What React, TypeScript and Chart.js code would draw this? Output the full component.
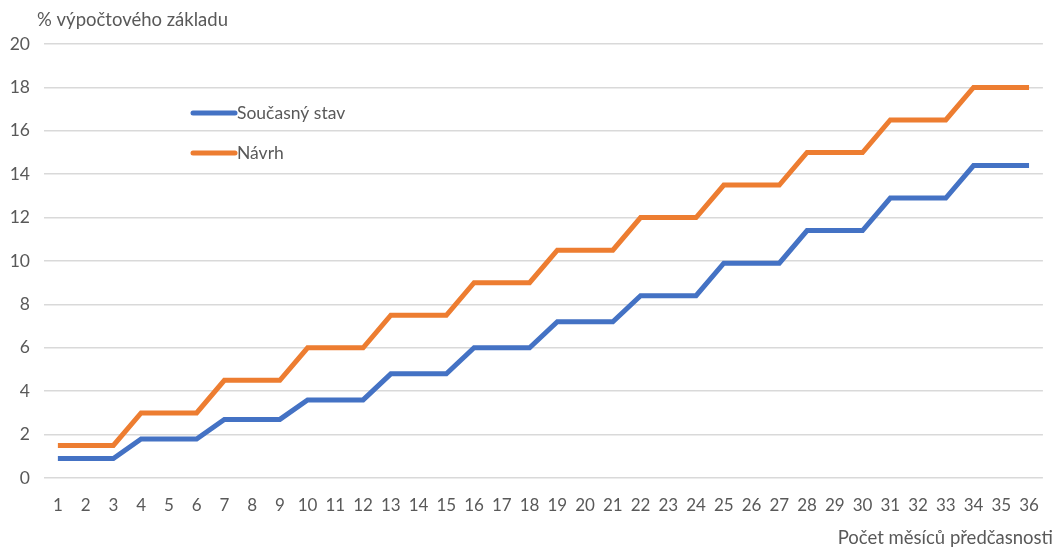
import React, { useEffect, useRef } from "react";
import { Chart, registerables } from "chart.js";

Chart.register(...registerables);

const months: string[] = Array.from({ length: 36 }, (_, i) => String(i + 1));
const currentState: number[] = [
  0.9, 0.9, 0.9, 1.8, 1.8, 1.8, 2.7, 2.7, 2.7, 3.6, 3.6, 3.6,
  4.8, 4.8, 4.8, 6.0, 6.0, 6.0, 7.2, 7.2, 7.2, 8.4, 8.4, 8.4,
  9.9, 9.9, 9.9, 11.4, 11.4, 11.4, 12.9, 12.9, 12.9, 14.4, 14.4, 14.4,
];
const proposal: number[] = [
  1.5, 1.5, 1.5, 3.0, 3.0, 3.0, 4.5, 4.5, 4.5, 6.0, 6.0, 6.0,
  7.5, 7.5, 7.5, 9.0, 9.0, 9.0, 10.5, 10.5, 10.5, 12.0, 12.0, 12.0,
  13.5, 13.5, 13.5, 15.0, 15.0, 15.0, 16.5, 16.5, 16.5, 18.0, 18.0, 18.0,
];
const seriesNames: string[] = ["Současný stav", "Návrh"];
const seriesColors: string[] = ["#4472C4", "#ED7D31"];
const yTitle = "% výpočtového základu";
const xTitle = "Počet měsíců předčasnosti";

const FONT = "Lato, 'Open Sans', sans-serif";
const TEXT = "#595959";

const overlayPlugin = {
  id: "overlayText",
  afterDraw(chart: any) {
    const ctx = chart.ctx as CanvasRenderingContext2D;
    const area = chart.chartArea;
    ctx.save();
    ctx.fillStyle = TEXT;
    ctx.font = `18.5px ${FONT}`;
    ctx.textBaseline = "middle";
    ctx.textAlign = "left";
    ctx.fillText(yTitle, 37, 20);
    ctx.textAlign = "right";
    ctx.fillText(xTitle, 1053, 538);
    // legend
    ctx.font = `17.5px ${FONT}`;
    const lx = area.left + 149;
    const ly = [113, 153];
    seriesNames.forEach((name, i) => {
      ctx.strokeStyle = seriesColors[i];
      ctx.lineWidth = 5;
      ctx.lineCap = "round";
      ctx.beginPath();
      ctx.moveTo(lx, ly[i]);
      ctx.lineTo(lx + 42, ly[i]);
      ctx.stroke();
      ctx.textAlign = "left";
      ctx.fillStyle = TEXT;
      ctx.fillText(name, lx + 44, ly[i]);
    });
    ctx.restore();
  },
};

export default function App() {
  const ref = useRef<HTMLCanvasElement | null>(null);
  useEffect(() => {
    document.body.style.margin = "0";
    const canvas = ref.current;
    if (!canvas) return;
    const chart = new Chart(canvas, {
      type: "line",
      data: {
        labels: months,
        datasets: [
          {
            label: seriesNames[0],
            data: currentState,
            borderColor: seriesColors[0],
            backgroundColor: seriesColors[0],
            borderWidth: 5,
            pointRadius: 0,
            tension: 0,
          },
          {
            label: seriesNames[1],
            data: proposal,
            borderColor: seriesColors[1],
            backgroundColor: seriesColors[1],
            borderWidth: 5,
            pointRadius: 0,
            tension: 0,
          },
        ],
      },
      options: {
        animation: false,
        responsive: false,
        maintainAspectRatio: false,
        layout: { padding: { top: 44, right: 7, left: 0, bottom: 0 } },
        plugins: {
          legend: { display: false },
          tooltip: { enabled: false },
        },
        scales: {
          x: {
            offset: true,
            grid: { display: false, drawTicks: false },
            border: { display: false },
            ticks: {
              color: TEXT,
              font: { family: FONT, size: 17 },
              padding: 17,
              maxRotation: 0,
              autoSkip: false,
            },
            afterFit(scale: any) {
              scale.height = 70;
            },
          },
          y: {
            min: 0,
            max: 20,
            grid: { color: "#D9D9D9", lineWidth: 1.5, drawTicks: false },
            border: { display: false },
            ticks: {
              stepSize: 2,
              color: TEXT,
              font: { family: FONT, size: 17.5 },
              padding: 14,
            },
            afterFit(scale: any) {
              scale.width = 44;
            },
          },
        },
      },
      plugins: [overlayPlugin],
    });
    return () => chart.destroy();
  }, []);
  return (
    <div style={{ position: "absolute", left: 0, top: 0, width: 1056, height: 548 }}>
      <canvas ref={ref} width={1056} height={548} style={{ width: 1056, height: 548 }} />
    </div>
  );
}
